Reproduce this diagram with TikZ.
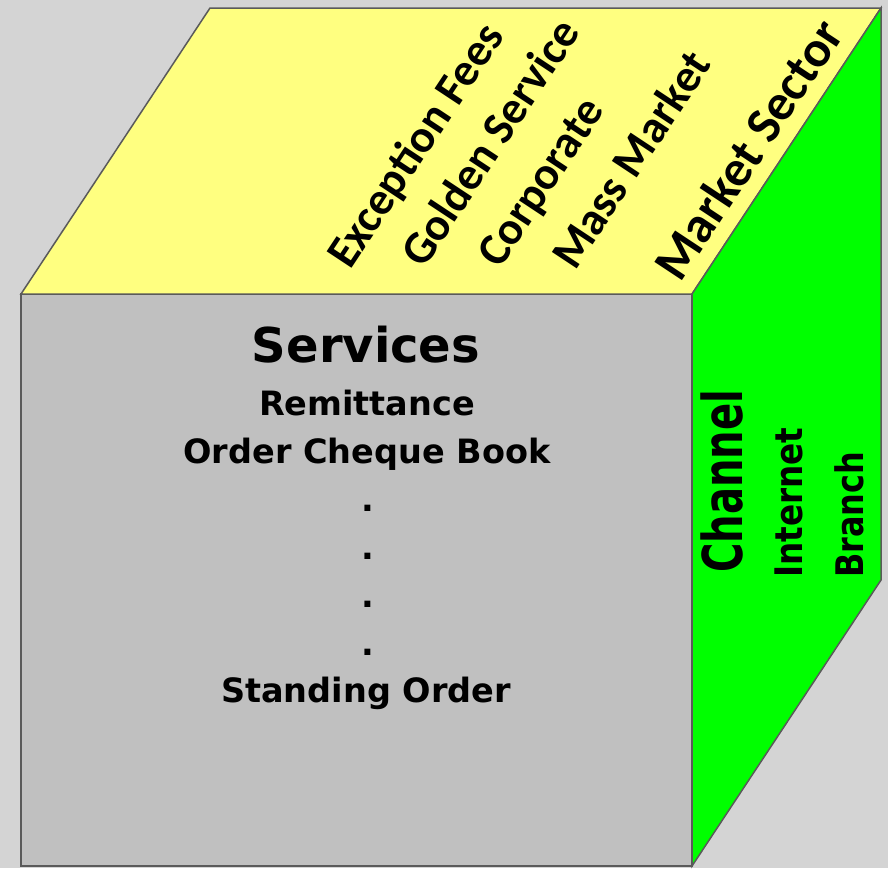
\documentclass[tikz,border=0pt]{standalone}
\usepackage{fontspec}
\setmainfont{DejaVu Sans}
\newfontfamily\calib{Carlito}
\definecolor{bgc}{HTML}{D4D4D4}
\definecolor{frontc}{HTML}{C0C0C0}
\definecolor{topc}{HTML}{FFFF80}
\definecolor{sidec}{HTML}{00FF00}
\definecolor{edgec}{HTML}{5A5A5A}
\tikzset{
  face/.style={draw=edgec, line width=1.5pt, line join=miter},
  toptext/.style={inner sep=0pt, anchor=base west, rotate=56.5, font=\calib\bfseries\fontsize{46}{46}\selectfont},
  sidetext/.style={inner sep=0pt, anchor=base west, rotate=90, font=\bfseries\fontsize{38}{38}\selectfont},
  fronttext/.style={inner sep=0pt, anchor=base, font=\bfseries\fontsize{33.5}{33.5}\selectfont}
}
\begin{document}
\begin{tikzpicture}[x=1pt,y=-1pt]
\useasboundingbox (0,0) rectangle (888,868);
\fill[bgc] (0,0) rectangle (888,868);
% cube corners
\coordinate (fl) at (21,294);
\coordinate (fr) at (692,294);
\coordinate (br) at (692,866);
\coordinate (bl) at (21,866);
\coordinate (tl) at (210,8);
\coordinate (tr) at (881,8);
\coordinate (rb) at (881,580);
% faces
\filldraw[face, fill=frontc] (fl) -- (fr) -- (br) -- (bl) -- cycle;
\filldraw[face, fill=topc] (fl) -- (tl) -- (tr) -- (fr) -- cycle;
\filldraw[face, fill=sidec] (fr) -- (tr) -- (rb) -- (br) -- cycle;
% top face labels
\node[toptext] (exc) at (350,271) {Exception Fees};
\node[toptext] (gold) at (424,270) {Golden Service};
\node[toptext] (corp) at (500,270) {Corporate};
\node[toptext] (mass) at (575,272) {Mass Market};
\node[toptext, font=\calib\bfseries\fontsize{51}{51}\selectfont] (sector) at (680,284) {Market Sector};
% front face labels
\node[fronttext, font=\bfseries\fontsize{48}{48}\selectfont] (serv) at (366,362) {Services};
\node[fronttext] (remit) at (367,415) {Remittance};
\node[fronttext] (cheque) at (367,463) {Order Cheque Book};
\node[fronttext] (d1) at (368,511) {.};
\node[fronttext] (d2) at (368,559) {.};
\node[fronttext] (d3) at (368,607) {.};
\node[fronttext] (d4) at (368,655) {.};
\node[fronttext] (stand) at (366,702) {Standing Order};
% side face labels
\node[sidetext] (chan) at (742,573) {\fontsize{55}{55}\selectfont\scalebox{0.73}[1]{Channel}};
\node[sidetext] (inet) at (802,578) {\scalebox{0.86}[1]{Internet}};
\node[sidetext] (branch) at (863,578) {\scalebox{0.84}[1]{Branch}};
\end{tikzpicture}
\end{document}
